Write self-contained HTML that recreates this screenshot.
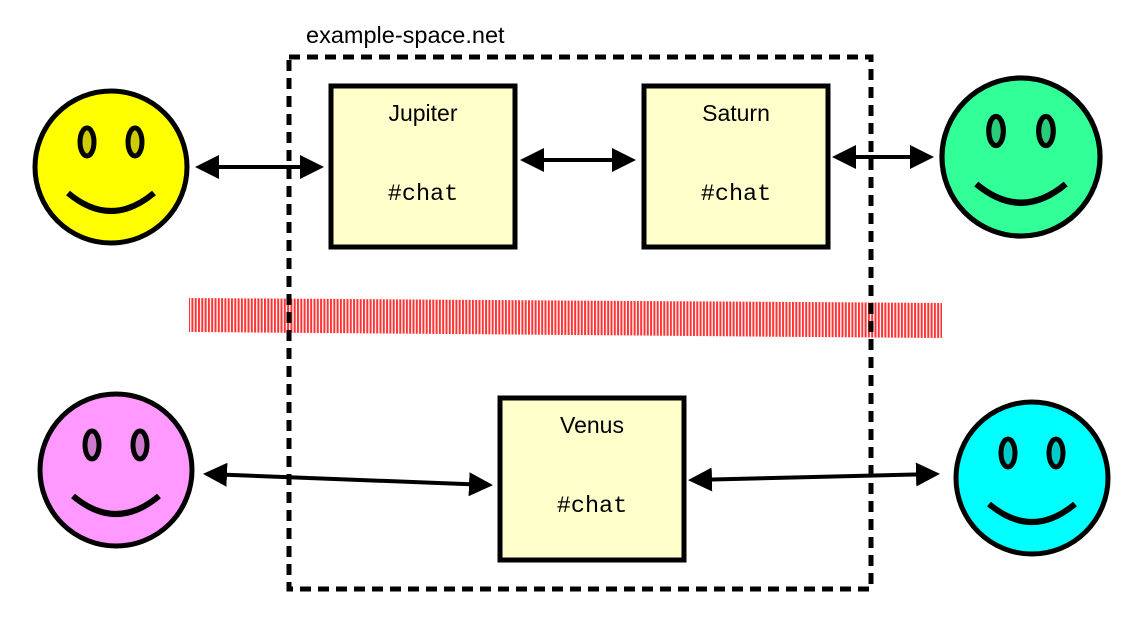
<!DOCTYPE html>
<html><head><meta charset="utf-8"><style>body{margin:0;background:#fff}svg{display:block}</style></head><body>
<svg width="1140" height="621" viewBox="0 0 1140 621" xmlns="http://www.w3.org/2000/svg">
<defs>
<pattern id="st" width="3.3" height="10" patternUnits="userSpaceOnUse"><rect width="2" height="10" fill="#ff3333"/></pattern>
<marker id="ah" markerWidth="6" markerHeight="6" refX="5" refY="3" orient="auto-start-reverse" markerUnits="strokeWidth"><path d="M0,0 L6,3 L0,6 Z" fill="#000"/></marker>
<g id="face"><circle cx="0" cy="0" r="76" stroke="#000" stroke-width="5"/>
<ellipse cx="-24" cy="-25" rx="7" ry="14" fill="rgba(0,0,0,0.2)" stroke="#000" stroke-width="5"/>
<ellipse cx="24" cy="-25" rx="7" ry="14" fill="rgba(0,0,0,0.2)" stroke="#000" stroke-width="5"/>
<path d="M-43,26 Q0,62 43,26" fill="none" stroke="#000" stroke-width="6"/></g>
</defs>
<polygon points="189,298 942,303 942,338 189,332" fill="url(#st)"/>
<rect x="289" y="57" width="582" height="532" fill="none" stroke="#000" stroke-width="5" stroke-dasharray="11 7"/>
<text x="306" y="43" font-family="Liberation Sans, sans-serif" font-size="23.5">example-space.net</text>
<use href="#face" x="111" y="167" fill="#ffff00"/>
<g transform="translate(1021,157) scale(1.04)"><use href="#face" fill="#33ff99"/></g>
<use href="#face" x="116" y="470" fill="#ff99ff"/>
<use href="#face" x="1032" y="478" fill="#00ffff"/>
<g stroke="#000" stroke-width="5" fill="#ffffcc">
<rect x="331" y="86" width="184" height="161"/>
<rect x="644" y="86" width="184" height="161"/>
<rect x="500" y="398" width="184" height="162"/>
</g>
<g font-family="Liberation Sans, sans-serif" font-size="23" text-anchor="middle">
<text x="423" y="121">Jupiter</text><text x="736" y="121">Saturn</text><text x="592" y="433">Venus</text></g>
<g font-family="Liberation Mono, monospace" font-size="23.5" text-anchor="middle">
<text x="423" y="200">#chat</text><text x="736" y="200">#chat</text><text x="592" y="512">#chat</text></g>
<g stroke="#000" stroke-width="4" marker-start="url(#ah)" marker-end="url(#ah)" fill="none">
<line x1="199" y1="167" x2="320" y2="167"/>
<line x1="524" y1="160" x2="632" y2="160"/>
<line x1="836" y1="157" x2="930" y2="157"/>
<line x1="207" y1="474" x2="489" y2="485"/>
<line x1="692" y1="480" x2="936" y2="474"/>
</g>
</svg>
</body></html>
